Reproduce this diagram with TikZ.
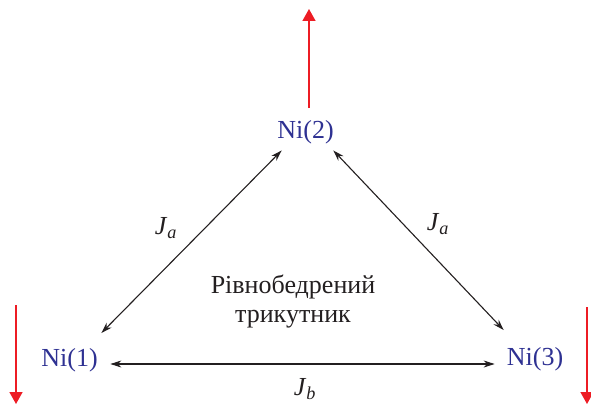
\documentclass[tikz,border=0pt]{standalone}
\usepackage{fontspec}
\setmainfont{Liberation Serif}
\usepackage{tikz}
\usetikzlibrary{arrows.meta}
\definecolor{atomblue}{HTML}{2E3192}
\definecolor{spinred}{HTML}{ED1C24}
\definecolor{inkdark}{HTML}{231F20}

\begin{document}
\begin{tikzpicture}[x=1pt, y=-1pt,
  atom/.style = {text=atomblue, font=\fontsize{26}{29}\selectfont, inner sep=2pt},
  lbl/.style  = {text=inkdark, font=\fontsize{26}{29}\selectfont, inner sep=1pt},
  bond/.style = {{Stealth[length=11pt,width=7pt]}-{Stealth[length=11pt,width=7pt]}, line width=1.1pt, color=inkdark},
  spin/.style = {-{Triangle[length=12pt,width=13pt]}, line width=1.5pt, color=spinred},
]
\useasboundingbox (0,0) rectangle (591,404);
\node[atom] (ni1) at (69.5,360) {Ni(1)};
\node[atom] (ni2) at (305.5,132.5) {Ni(2)};
\node[atom] (ni3) at (535,359) {Ni(3)};
\node[lbl, align=center] (title) at (293,301) {Рівнобедрений\\трикутник};
\node[lbl] (ja1) at (166,228) {\textit{J}\textsubscript{\textit{a}}};
\node[lbl] (ja2) at (438,224) {\textit{J}\textsubscript{\textit{a}}};
\node[lbl] (jb) at (305,389) {\textit{J}\textsubscript{\textit{b}}};
% exchange bonds
\draw[bond] ([xshift=1.5pt,yshift=13pt]ni1.north east) -- ([xshift=6.5pt,yshift=-4pt]ni2.south west);
\draw[bond] ([xshift=-2.5pt,yshift=-4pt]ni2.south east) -- ([xshift=-1pt,yshift=15pt]ni3.north west);
\draw[bond] ([xshift=10.5pt,yshift=-4pt]ni1.east) -- ([xshift=-10pt,yshift=-5pt]ni3.west);
% spins
\coordinate (s1a) at (16,305);
\coordinate (s1b) at (16,404);
\coordinate (s2a) at (309,108);
\coordinate (s2b) at (309,9);
\coordinate (s3a) at (587,307);
\coordinate (s3b) at (587,404);
\draw[spin] (s1a) -- (s1b);
\draw[spin] (s2a) -- (s2b);
\draw[spin] (s3a) -- (s3b);
\end{tikzpicture}
\end{document}
